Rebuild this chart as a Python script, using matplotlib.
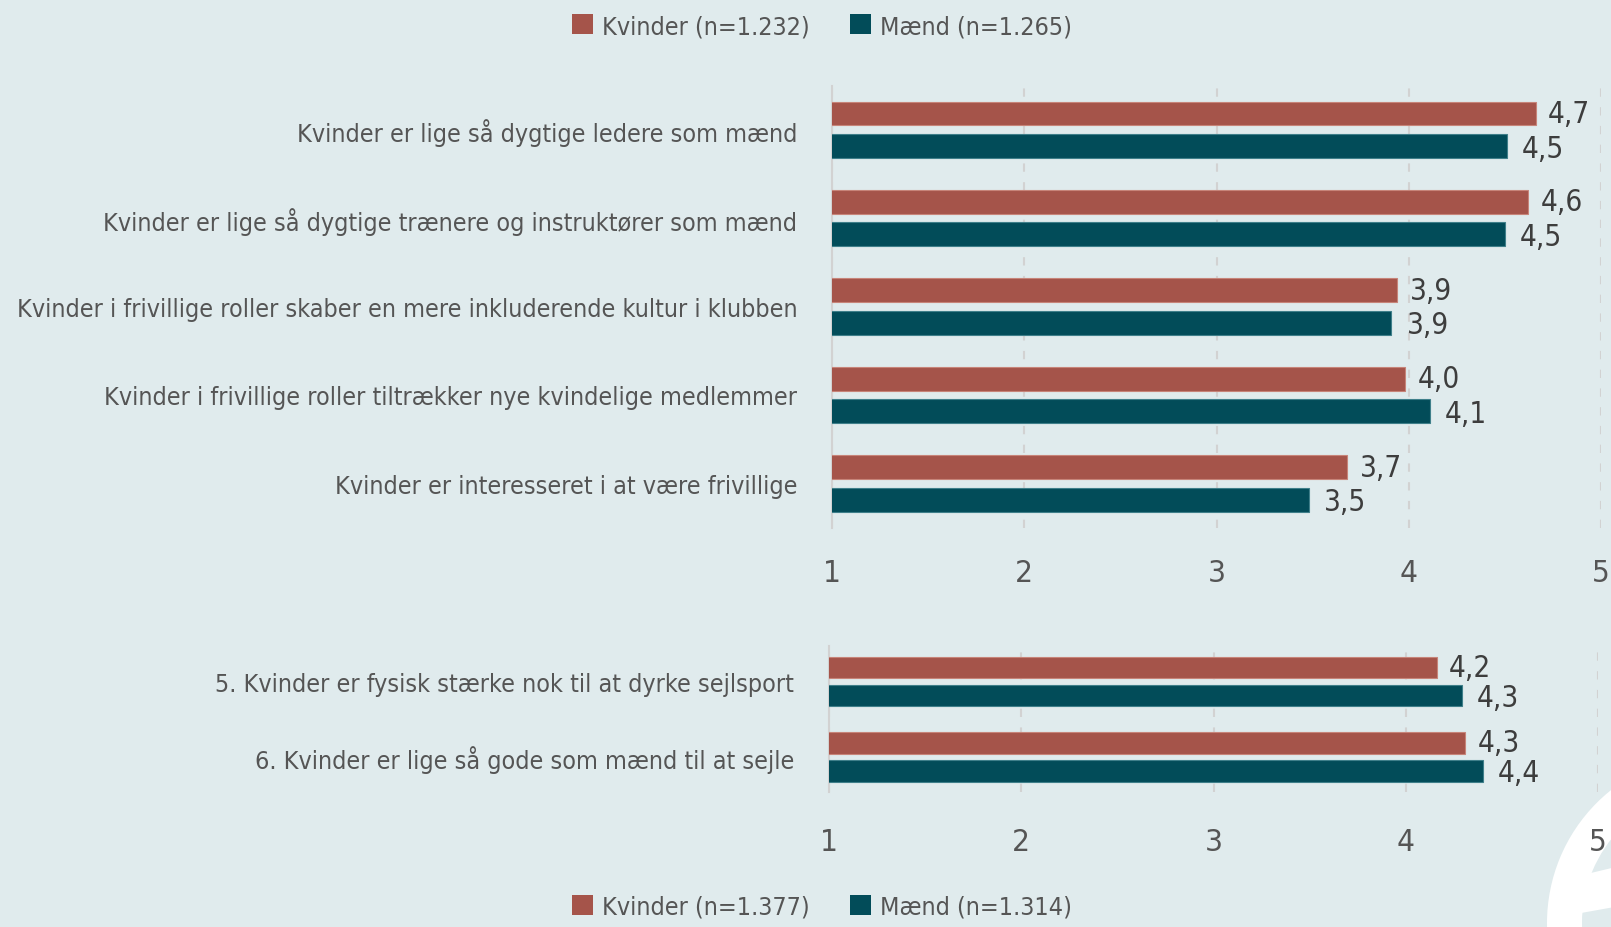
import matplotlib
matplotlib.use('Agg')
import matplotlib.pyplot as plt
from matplotlib import font_manager as fm
from matplotlib.patches import Patch, Wedge, Polygon
from matplotlib.transforms import IdentityTransform

# ---------------- data ----------------
top_categories = [
    "Kvinder er lige så dygtige ledere som mænd",
    "Kvinder er lige så dygtige trænere og instruktører som mænd",
    "Kvinder i frivillige roller skaber en mere inkluderende kultur i klubben",
    "Kvinder i frivillige roller tiltrækker nye kvindelige medlemmer",
    "Kvinder er interesseret i at være frivillige",
]
top_kvinder = [4.66, 4.62, 3.94, 3.98, 3.68]
top_maend = [4.51, 4.50, 3.91, 4.11, 3.48]
top_legend = ["Kvinder (n=1.232)", "Mænd (n=1.265)"]

bottom_categories = [
    "5. Kvinder er fysisk stærke nok til at dyrke sejlsport",
    "6. Kvinder er lige så gode som mænd til at sejle",
]
bottom_kvinder = [4.16, 4.31]
bottom_maend = [4.29, 4.40]
bottom_legend = ["Kvinder (n=1.377)", "Mænd (n=1.314)"]

xticks = [1, 2, 3, 4, 5]
xtick_labels = ["1", "2", "3", "4", "5"]

# ---------------- style ----------------
BG = "#e0ebed"
RED = "#a5544a"
TEAL = "#024c59"
RED_EDGE = "#c78479"
TEAL_EDGE = "#3f7f8a"
GRID = "#d2d2d2"
TXT = "#555555"
VAL = "#3d3d3d"

names = {f.name for f in fm.fontManager.ttflist}
font_kw = {}
if "Liberation Sans Narrow" in names:
    font_kw = dict(family="Liberation Sans Narrow")
elif any(f.name == "DejaVu Sans" and str(f.stretch) in ("condensed", "semi-condensed", "75", "87.5")
         for f in fm.fontManager.ttflist):
    font_kw = dict(family="DejaVu Sans", stretch="condensed")
elif "Roboto Condensed" in names:
    font_kw = dict(family="Roboto Condensed")
else:
    font_kw = dict(family="Liberation Sans")
plt.rcParams["font.family"] = [font_kw["family"], "DejaVu Sans"]
if "stretch" in font_kw:
    plt.rcParams["font.stretch"] = font_kw["stretch"]

W, H = 1611, 928
fig = plt.figure(figsize=(W / 100, H / 100), dpi=100)
fig.patch.set_facecolor(BG)

# fit category label size to reference width (~783 px for longest label)
renderer = fig.canvas.get_renderer()
tmp = fig.text(0, 0, max(top_categories, key=len), fontsize=20)
wpx = tmp.get_window_extent(renderer).width
tmp.remove()
CAT_FS = min(26, 20 * 783 / wpx)
LEG_FS = CAT_FS
VAL_FS = min(25, CAT_FS * 1.18)
TICK_FS = min(26, CAT_FS * 1.25)


def px_axes(left, top, right, bottom):
    return fig.add_axes([left / W, 1 - bottom / H, (right - left) / W, (bottom - top) / H])


def draw(ax, cats, kv, md, ylim, off, h, tick_pad, cat_pad):
    n = len(cats)
    ys = list(range(n))
    ax.set_facecolor("none")
    ax.barh([y - off for y in ys], kv, height=h, color=RED, edgecolor=RED_EDGE, linewidth=0.8, zorder=3)
    ax.barh([y + off for y in ys], md, height=h, color=TEAL, edgecolor=TEAL_EDGE, linewidth=0.8, zorder=3)
    for y, v in zip(ys, kv):
        ax.annotate(f"{v:.1f}".replace(".", ","), xy=(v, y - off), xytext=(9, 0),
                    textcoords="offset points", va="center", ha="left",
                    fontsize=VAL_FS, color=VAL, zorder=4, annotation_clip=False)
    for y, v in zip(ys, md):
        ax.annotate(f"{v:.1f}".replace(".", ","), xy=(v, y + off), xytext=(11, -1.5),
                    textcoords="offset points", va="center", ha="left",
                    fontsize=VAL_FS, color=VAL, zorder=4, annotation_clip=False)
    ax.set_xlim(1, 5)
    ax.set_ylim(*ylim)
    ax.set_xticks(xticks)
    ax.set_xticklabels(xtick_labels)
    ax.set_yticks(ys)
    ax.set_yticklabels(cats)
    ax.tick_params(axis="x", length=0, pad=tick_pad, labelsize=TICK_FS, labelcolor=TXT)
    ax.tick_params(axis="y", length=0, pad=cat_pad, labelsize=CAT_FS, labelcolor=TXT)
    for s in ("top", "right", "bottom"):
        ax.spines[s].set_visible(False)
    ax.spines["left"].set_color(GRID)
    ax.spines["left"].set_linewidth(1.5)
    ax.grid(axis="x", color=GRID, linestyle=(0, (4, 5)), linewidth=1.5)
    ax.grid(axis="y", visible=False)
    ax.set_axisbelow(True)


ax1 = px_axes(832, 87, 1601, 529)
draw(ax1, top_categories, top_kvinder, top_maend, (4.505, -0.495), 0.184, 0.27, 21.5, 25)

ax2 = px_axes(829, 647, 1598, 793)
draw(ax2, bottom_categories, bottom_kvinder, bottom_maend, (1.468, -0.472), 0.186, 0.285, 25, 25)

# legends
for labels, ypx in ((top_legend, 27), (bottom_legend, 908)):
    handles = [Patch(facecolor=RED, edgecolor="none"), Patch(facecolor=TEAL, edgecolor="none")]
    fs_px = LEG_FS * 100 / 72
    leg = fig.legend(handles, labels, loc="center", bbox_to_anchor=(822 / W, 1 - ypx / H),
                     ncol=2, frameon=False, fontsize=LEG_FS, labelcolor=TXT,
                     handlelength=21 / fs_px, handleheight=21 / fs_px,
                     handletextpad=9 / fs_px, columnspacing=40 / fs_px, borderpad=0)

# decorative white logo arc at bottom right
ring = Wedge((1717, 4), 170, 0, 360, width=35, transform=IdentityTransform(),
             facecolor="white", edgecolor="none", zorder=-1)
fig.add_artist(ring)
bar = Polygon([(1570, 49), (1620, 61), (1620, 21), (1570, 12)], closed=True,
              transform=IdentityTransform(), facecolor="white", edgecolor="none", zorder=-1)
fig.add_artist(bar)

fig.savefig("out.png", dpi=100, facecolor=BG)
